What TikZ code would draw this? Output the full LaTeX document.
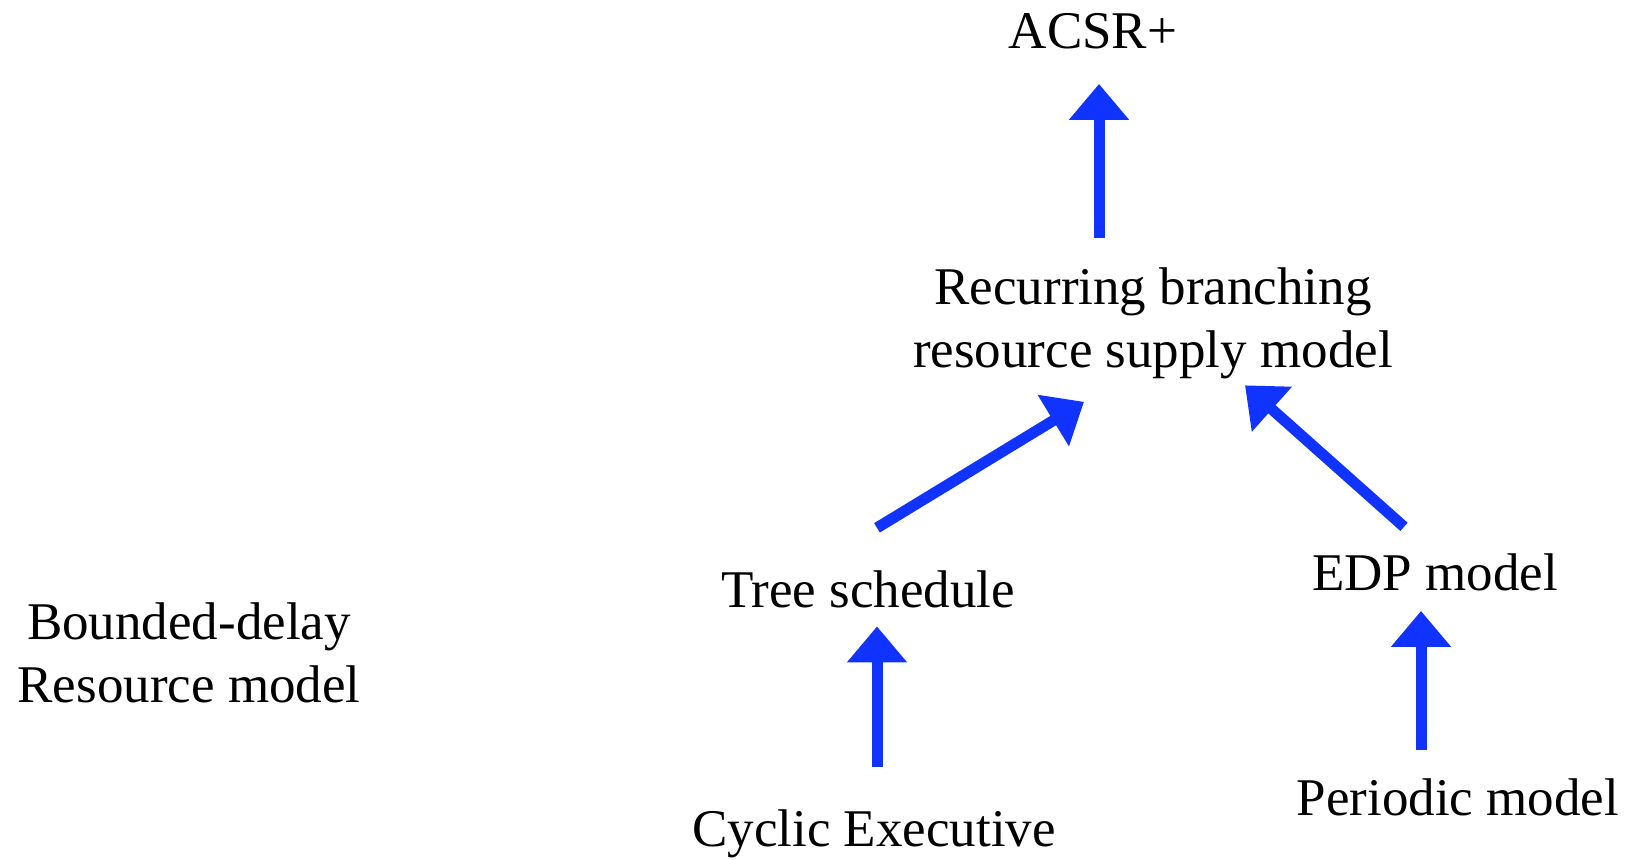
\documentclass[tikz,border=0pt]{standalone}
\usepackage{fontspec}
\setmainfont{Liberation Serif}
\usetikzlibrary{calc,arrows.meta}
\definecolor{linkblue}{RGB}{17,51,255}
\tikzset{
  lbl/.style={font=\fontsize{26.5}{31.5}\selectfont, inner sep=0pt, anchor=base, align=center},
  link/.style={draw=linkblue, line width=5.5pt, -{Triangle[length=18pt,width=29pt]}}
}
\begin{document}
\begin{tikzpicture}[x=0.5pt,y=0.5pt]
\useasboundingbox (0,0) rectangle (1632,859);
\node[lbl] (acsr) at (1093,810) {ACSR+};
\node[lbl] (recur) at (1153,492) {Recurring branching\\resource supply model};
\node[lbl] (tree) at (868,252) {Tree schedule};
\node[lbl] (edp) at (1435,269) {EDP model};
\node[lbl] (bounded) at (189,156.5) {Bounded-delay\\Resource model};
\node[lbl] (cyclic) at (874,13) {Cyclic Executive};
\node[lbl] (periodic) at (1458,44) {Periodic model};

\draw[link]
  ($(acsr.south |- recur.north)+(6,29)$) -- ($(acsr.south)+(6,-34)$);
\draw[link]
  ($(tree.north)+(9,42)$) -- ($(recur.south)+(-69,-23)$);
\draw[link]
  ($(edp.north)+(-31,26)$) -- ($(recur.south)+(92,-6.5)$);
\draw[link]
  ($(cyclic.north)+(3,42)$) -- ($(tree.south)+(9,-18.5)$);
\draw[link]
  ($(periodic.north)+(-37,27.5)$) -- ($(edp.south)+(-14,-20)$);

\end{tikzpicture}
\end{document}
